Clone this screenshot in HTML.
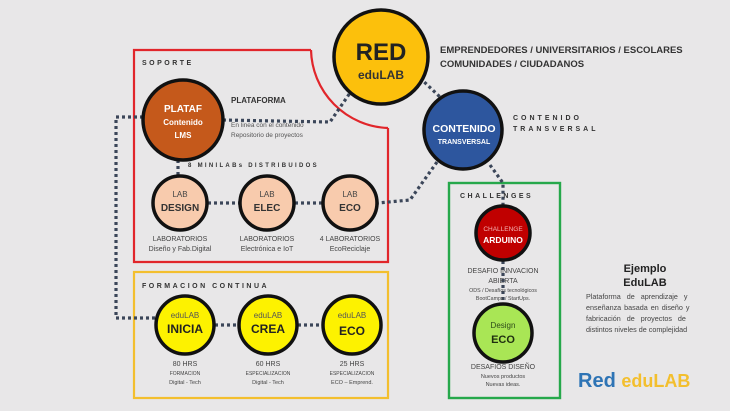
<!DOCTYPE html>
<html><head><meta charset="utf-8"><style>
html,body{margin:0;padding:0;background:#e8e7e8;}
svg{display:block;font-family:"Liberation Sans",sans-serif;}
</style></head><body>
<svg width="730" height="411" viewBox="0 0 730 411" xmlns="http://www.w3.org/2000/svg">
<rect width="730" height="411" fill="#e8e7e8"/>
<path d="M311,50 L134,50 L134,262 L388,262 L388,128" fill="none" stroke="#e1262b" stroke-width="2.2"/>
<path d="M311,50 A80,80 0 0 0 388,128" fill="none" stroke="#e1262b" stroke-width="2.2"/>
<rect x="134" y="272" width="254" height="126" fill="none" stroke="#f3bf2e" stroke-width="2.2"/>
<rect x="449" y="183" width="111" height="215" fill="none" stroke="#26a84b" stroke-width="2.4"/>
<g fill="none" stroke="#3b4659" stroke-width="3.2" stroke-dasharray="3,3">
<path d="M143,117 L116,117 L116,318 L155,318"/>
<path d="M223,120 L330,122 L352,90"/>
<path d="M420,78 L440,97"/>
<path d="M437,162 L410,200 L378,203"/>
<path d="M490,165 L503,183 L503,205"/>
<path d="M503,261 L503,303"/>
<path d="M178,160 L178,175"/>
<path d="M208,203 L239,203"/>
<path d="M295,203 L322,203"/>
<path d="M215,325 L238,325"/>
<path d="M298,325 L322,325"/>
</g>
<g stroke="#111" stroke-width="3.5">
<circle cx="381" cy="57" r="47" fill="#fcc00c"/>
<circle cx="463" cy="130" r="39" fill="#2d569e"/>
<circle cx="183" cy="120" r="40" fill="#c5591b"/>
<circle cx="180" cy="203" r="27" fill="#f8cbad"/>
<circle cx="267" cy="203" r="27" fill="#f8cbad"/>
<circle cx="350" cy="203" r="27" fill="#f8cbad"/>
<circle cx="185" cy="325" r="29" fill="#fdf200"/>
<circle cx="268" cy="325" r="29" fill="#fdf200"/>
<circle cx="352" cy="325" r="29" fill="#fdf200"/>
<circle cx="503" cy="233" r="27" fill="#c00000"/>
<circle cx="503" cy="333" r="29" fill="#a9e655"/>
</g>
<g text-anchor="middle" font-weight="bold">
<text x="381" y="60" font-size="24" fill="#222">RED</text>
<text x="381" y="79" font-size="12" fill="#333">eduLAB</text>
<text x="464" y="132" font-size="10.5" fill="#fff">CONTENIDO</text>
<text x="464" y="144" font-size="7" fill="#fff">TRANSVERSAL</text>
<text x="183" y="112" font-size="10" fill="#fff">PLATAF</text>
<text x="183" y="125" font-size="8" fill="#fff">Contenido</text>
<text x="183" y="138" font-size="8" fill="#fff">LMS</text>
<text x="180" y="197" font-size="8" font-weight="normal" fill="#444">LAB</text>
<text x="180" y="211" font-size="10" fill="#333">DESIGN</text>
<text x="267" y="197" font-size="8" font-weight="normal" fill="#444">LAB</text>
<text x="267" y="211" font-size="10" fill="#333">ELEC</text>
<text x="350" y="197" font-size="8" font-weight="normal" fill="#444">LAB</text>
<text x="350" y="211" font-size="10" fill="#333">ECO</text>
<text x="185" y="318" font-size="8" font-weight="normal" fill="#555">eduLAB</text>
<text x="185" y="333" font-size="12" fill="#222">INICIA</text>
<text x="268" y="318" font-size="8" font-weight="normal" fill="#555">eduLAB</text>
<text x="268" y="333" font-size="12" fill="#222">CREA</text>
<text x="352" y="318" font-size="8" font-weight="normal" fill="#555">eduLAB</text>
<text x="352" y="335" font-size="12" fill="#222">ECO</text>
<text x="503" y="231" font-size="6.5" font-weight="normal" fill="#f4b4b4">CHALLENGE</text>
<text x="503" y="243" font-size="8.5" fill="#fff">ARDUINO</text>
<text x="503" y="328" font-size="8" font-weight="normal" fill="#2d4a1a">Design</text>
<text x="503" y="343" font-size="11" fill="#1f2f10">ECO</text>
</g>
<g fill="#333" font-weight="bold">
<text x="142" y="65" font-size="7" letter-spacing="2.5">SOPORTE</text>
<text x="231" y="103" font-size="8">PLATAFORMA</text>
<text x="188" y="167" font-size="6" letter-spacing="2.3">8 MINILABs DISTRIBUIDOS</text>
<text x="142" y="288" font-size="7" letter-spacing="2.5">FORMACION CONTINUA</text>
<text x="460" y="198" font-size="7" letter-spacing="2.5">CHALLENGES</text>
<text x="513" y="120" font-size="7" letter-spacing="3">CONTENIDO</text>
<text x="513" y="131" font-size="7" letter-spacing="3">TRANSVERSAL</text>
<text x="440" y="53" font-size="9.5">EMPRENDEDORES  / UNIVERSITARIOS / ESCOLARES</text>
<text x="440" y="67" font-size="9.5">COMUNIDADES  / CIUDADANOS</text>
</g>
<g fill="#555" font-size="6.5">
<text x="231" y="127">En linea con el contenido</text>
<text x="231" y="137">Repositorio  de proyectos</text>
</g>
<g text-anchor="middle" fill="#444">
<text x="180" y="241" font-size="7">LABORATORIOS</text>
<text x="180" y="251" font-size="7">Diseño y Fab.Digital</text>
<text x="267" y="241" font-size="7">LABORATORIOS</text>
<text x="267" y="251" font-size="7">Electrónica e IoT</text>
<text x="350" y="241" font-size="7">4 LABORATORIOS</text>
<text x="350" y="251" font-size="7">EcoReciclaje</text>
<text x="185" y="366" font-size="7">80 HRS</text>
<text x="185" y="375" font-size="5">FORMACION</text>
<text x="185" y="384" font-size="5.5">Digital - Tech</text>
<text x="268" y="366" font-size="7">60 HRS</text>
<text x="268" y="375" font-size="5">ESPECIALIZACION</text>
<text x="268" y="384" font-size="5.5">Digital - Tech</text>
<text x="352" y="366" font-size="7">25 HRS</text>
<text x="352" y="375" font-size="5">ESPECIALIZACION</text>
<text x="352" y="384" font-size="5.5">ECO – Emprend.</text>
<text x="503" y="273" font-size="7">DESAFIO INNVACION</text>
<text x="503" y="283" font-size="7">ABIERTA</text>
<text x="503" y="292" font-size="5.3">ODS / Desafíos tecnológicos</text>
<text x="503" y="300" font-size="5.3">BootCamps / StartUps.</text>
<text x="503" y="369" font-size="7">DESAFIOS DISEÑO</text>
<text x="503" y="378" font-size="5.5">Nuevos productos</text>
<text x="503" y="386" font-size="5.5">Nuevas ideas.</text>
<text x="645" y="272" font-size="11" fill="#222" font-weight="bold">Ejemplo</text>
<text x="645" y="286" font-size="11" fill="#222" font-weight="bold">EduLAB</text>
</g>
<g fill="#444" font-size="7.2">
<text x="586" y="299" word-spacing="4">Plataforma de aprendizaje y</text>
<text x="586" y="310" word-spacing="1">enseñanza basada en diseño y</text>
<text x="586" y="321" word-spacing="4">fabricación de proyectos de</text>
<text x="586" y="332">distintos niveles de complejidad</text>
</g>
<text x="578" y="387" font-size="20" font-weight="bold" fill="#2e74b5">Red <tspan fill="#f3bf2e" font-size="18">eduLAB</tspan></text>
</svg>
</body></html>
